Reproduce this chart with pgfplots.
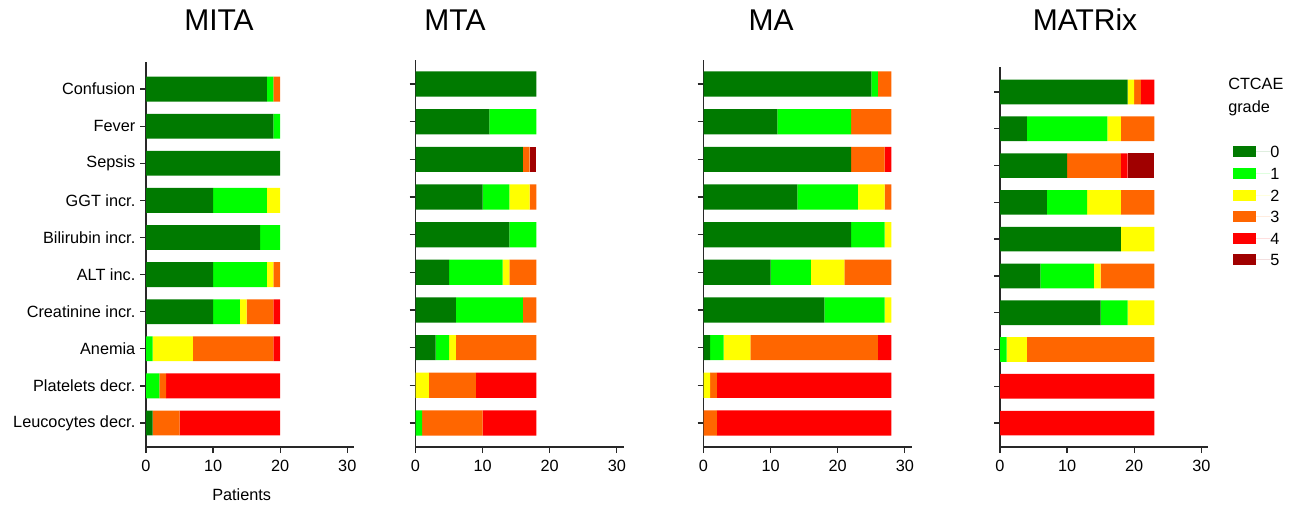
\documentclass[border=0pt]{standalone}
\usepackage{fontspec}
\setmainfont{Liberation Sans}
\usepackage{pgfplots}
\pgfplotsset{compat=1.18}
\usepackage{pgfplotstable}

\definecolor{g0}{RGB}{0,122,0}
\definecolor{g1}{RGB}{0,255,0}
\definecolor{g2}{RGB}{255,255,0}
\definecolor{g3}{RGB}{255,102,0}
\definecolor{g4}{RGB}{255,0,0}
\definecolor{g5}{RGB}{160,0,0}
\definecolor{axc}{RGB}{40,40,40}

% y: 0 = Leucocytes decr. ... 9 = Confusion
\pgfplotstableread{
y a  b  c  d  e  f
0 1  0  0  4  15 0
1 0  2  0  1  17 0
2 0  1  6  12 1  0
3 10 4  1  4  1  0
4 10 8  1  1  0  0
5 17 3  0  0  0  0
6 10 8  2  0  0  0
7 20 0  0  0  0  0
8 19 1  0  0  0  0
9 18 1  0  1  0  0
}\mita
\pgfplotstableread{
y a  b  c  d  e  f
0 0  1  0  9  8  0
1 0  0  2  7  9  0
2 3  2  1  12 0  0
3 6  10 0  2  0  0
4 5  8  1  4  0  0
5 14 4  0  0  0  0
6 10 4  3  1  0  0
7 16 0  0  1  0  1
8 11 7  0  0  0  0
9 18 0  0  0  0  0
}\mta
\pgfplotstableread{
y a  b  c  d  e  f
0 0  0  0  2  26 0
1 0  0  1  1  26 0
2 1  2  4  19 2  0
3 18 9  1  0  0  0
4 10 6  5  7  0  0
5 22 5  1  0  0  0
6 14 9  4  1  0  0
7 22 0  0  5  1  0
8 11 11 0  6  0  0
9 25 1  0  2  0  0
}\ma
\pgfplotstableread{
y a  b  c  d  e  f
0 0  0  0  0  23 0
1 0  0  0  0  23 0
2 0  1  3  19 0  0
3 15 4  4  0  0  0
4 6  8  1  8  0  0
5 18 0  5  0  0  0
6 7  6  5  5  0  0
7 10 0  0  8  1  4
8 4  12 2  5  0  0
9 19 0  1  1  2  0
}\matrix

\pgfplotsset{
  panel/.style={
    scale only axis, width=156pt,
    xbar stacked, bar width=0.67,
    xmin=0, xmax=31, xtick={0,10,20,30},
    ytick={0,...,9},
    axis x line*=bottom, axis y line*=left,
    tick align=outside,
    major tick length=4.5pt,
    axis line style={line width=1pt, axc},
    tick style={line width=1pt, axc},
    ticklabel style={font=\fontsize{12.2}{14}\selectfont},
    xticklabel style={yshift=-2pt},
    /pgf/number format/assume math mode=true,
    anchor=south west,
    clip=false,
  },
  sq/.style={fill=#1, draw=none,
    legend image code/.code={\fill[#1] (0pt,-4.1pt) rectangle (17.25pt,4.1pt);
      \path (0pt,0pt) -- (28pt,0pt);}},
}

\newcommand{\bars}[1]{%
  \addplot[sq=g0] table[x=a, y=y] {#1};
  \addplot[sq=g1] table[x=b, y=y] {#1};
  \addplot[sq=g2] table[x=c, y=y] {#1};
  \addplot[sq=g3] table[x=d, y=y] {#1};
  \addplot[sq=g4] table[x=e, y=y] {#1};
  \addplot[sq=g5] table[x=f, y=y] {#1};
}

\begin{document}
\begin{tikzpicture}
\path[use as bounding box] (0,0) rectangle (1301*0.75pt, -506*0.75pt);

\begin{axis}[panel, at={(146*0.75pt, -447*0.75pt)},
  height=385*0.75pt, ymin=-0.647, ymax=9.73,
  yticklabels={Leucocytes decr., Platelets decr., Anemia, Creatinine incr., ALT inc., Bilirubin incr., GGT incr., Sepsis, Fever, Confusion},
  xlabel={Patients},
  xlabel style={font=\fontsize{12.2}{14}\selectfont, at={(axis description cs:0.46,0)}, anchor=base, yshift=-53*0.75pt},
]
\bars{\mita}
\end{axis}

\begin{axis}[panel, at={(415.5*0.75pt, -447*0.75pt)},
  height=387*0.75pt, ymin=-0.64, ymax=9.64, yticklabels={}]
\bars{\mta}
\end{axis}

\begin{axis}[panel, at={(703.5*0.75pt, -447*0.75pt)},
  height=387*0.75pt, ymin=-0.64, ymax=9.64, yticklabels={}]
\bars{\ma}
\end{axis}

\begin{axis}[panel, at={(1000*0.75pt, -447*0.75pt)},
  height=380*0.75pt, ymin=-0.65, ymax=9.68, yticklabels={},
  legend style={draw=none, fill=none, at={(axis description cs:1.10,0.80)}, anchor=north west,
    font=\fontsize{12.2}{14}\selectfont, row sep=7.2pt,
    nodes={inner sep=0pt, text height=9pt, text depth=0pt}},
  legend cell align=left,
]
\bars{\matrix}
\legend{0,1,2,3,4,5}
\end{axis}

\node[font=\fontsize{22.5}{27}\selectfont, anchor=base] at (219*0.75pt, -31*0.75pt) {MITA};
\node[font=\fontsize{22.5}{27}\selectfont, anchor=base] at (455*0.75pt, -31*0.75pt) {MTA};
\node[font=\fontsize{22.5}{27}\selectfont, anchor=base] at (771*0.75pt, -31*0.75pt) {MA};
\node[font=\fontsize{22.5}{27}\selectfont, anchor=base] at (1085*0.75pt, -31*0.75pt) {MATRix};
\node[font=\fontsize{12.2}{14}\selectfont, anchor=north west, align=left, inner sep=0pt] at (1228*0.75pt, -78*0.75pt) {CTCAE\\[3pt]grade};
\end{tikzpicture}
\end{document}
